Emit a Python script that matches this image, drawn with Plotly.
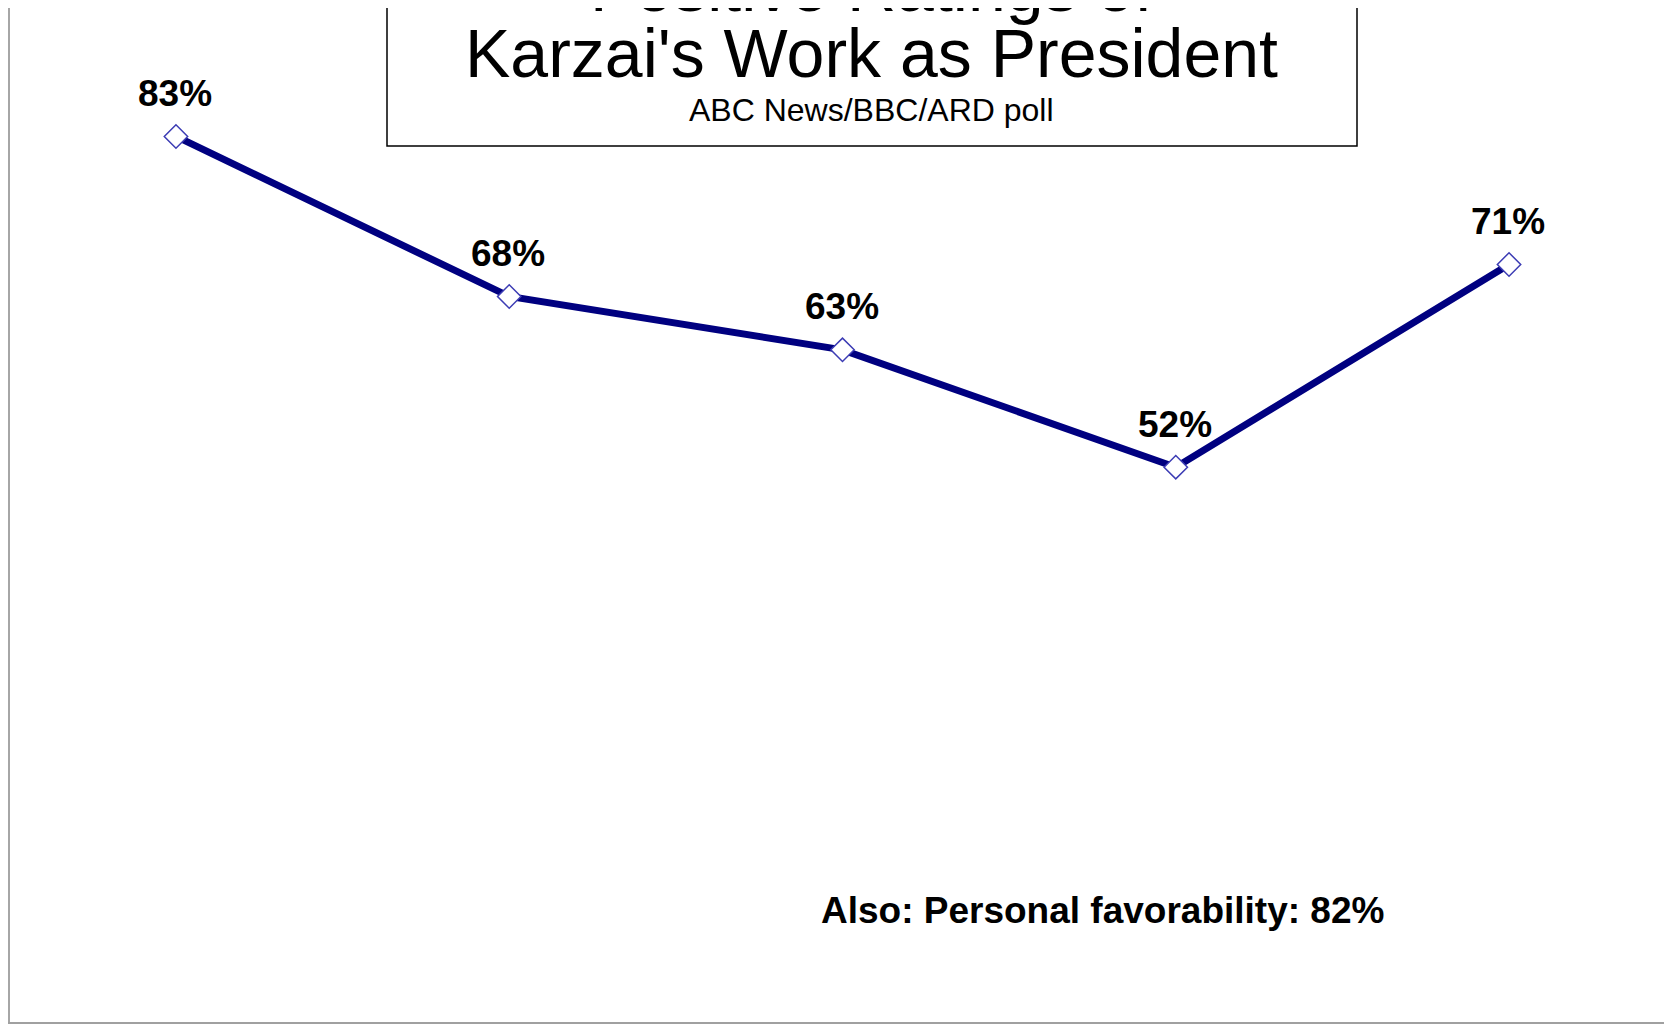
import plotly.graph_objects as go

# ---- data ----
categories = ["2005", "2006", "2007", "Jan 2009", "Dec 2009"]
values = [83, 68, 63, 52, 71]
title_line1 = "Positive Ratings of"
title_line2 = "Karzai's Work as President"
subtitle = "ABC News/BBC/ARD poll"
note = "Also: Personal favorability: 82%"

W, H = 1672, 1024
OFF = 8  # page body margin
ML, MR, MT, MB = 2, 0, 0, 10
PW = W - ML - MR
PH = H - MT - MB


def px(x):
    return (x - OFF - ML) / PW


def py(y):
    return (H - MB - (y - OFF)) / PH


FONT = "Liberation Sans, Arial, sans-serif"
idx = list(range(len(categories)))

fig = go.Figure()
fig.add_trace(go.Scatter(
    x=idx, y=values, mode="lines+markers",
    customdata=categories,
    line=dict(color="#000080", width=7),
    marker=dict(symbol="diamond", size=18, color="white",
                line=dict(color="#3c3cb4", width=1.5)),
    hoverinfo="skip", showlegend=False,
))

annotations = []
for i, v in zip(idx, values):
    annotations.append(dict(
        x=i, y=v, xref="x", yref="y", text=f"{v}%", showarrow=False,
        yanchor="middle", xanchor="center", yshift=43, xshift=-1,
        font=dict(family=FONT, size=37, color="black", weight="bold"),
    ))

annotations += [
    dict(x=px(871), y=py(-13), xref="paper", yref="paper", text=title_line1,
         showarrow=False, xanchor="center", yanchor="middle",
         font=dict(family=FONT, size=68, color="black")),
    dict(x=px(871), y=py(53), xref="paper", yref="paper", text=title_line2,
         showarrow=False, xanchor="center", yanchor="middle",
         font=dict(family=FONT, size=68, color="black")),
    dict(x=px(871), y=py(110), xref="paper", yref="paper", text=subtitle,
         showarrow=False, xanchor="center", yanchor="middle",
         font=dict(family=FONT, size=32, color="black")),
    dict(x=px(1102), y=py(910), xref="paper", yref="paper", text=note,
         showarrow=False, xanchor="center", yanchor="middle",
         font=dict(family=FONT, size=37, color="black", weight="bold")),
]

fig.update_layout(
    width=W, height=H,
    margin=dict(l=ML, r=MR, t=MT, b=MB, pad=0),
    paper_bgcolor="white", plot_bgcolor="white",
    xaxis=dict(range=[-0.498, 4.513], showticklabels=False,
               ticks="", showgrid=False, zeroline=False,
               tickvals=idx, ticktext=categories,
               showline=True, linecolor="#a0a0a0", linewidth=2, fixedrange=True),
    yaxis=dict(range=[0, 95.04], showticklabels=False, ticks="",
               showgrid=False, zeroline=False,
               showline=True, linecolor="#a6a6a6", linewidth=3, fixedrange=True),
    annotations=annotations,
    shapes=[dict(type="rect", xref="paper", yref="paper",
                 x0=px(387), x1=px(1357), y0=py(146), y1=py(-20),
                 line=dict(color="black", width=1.5), fillcolor="rgba(0,0,0,0)")],
)

fig.write_html("out.html", config={"displayModeBar": False})
